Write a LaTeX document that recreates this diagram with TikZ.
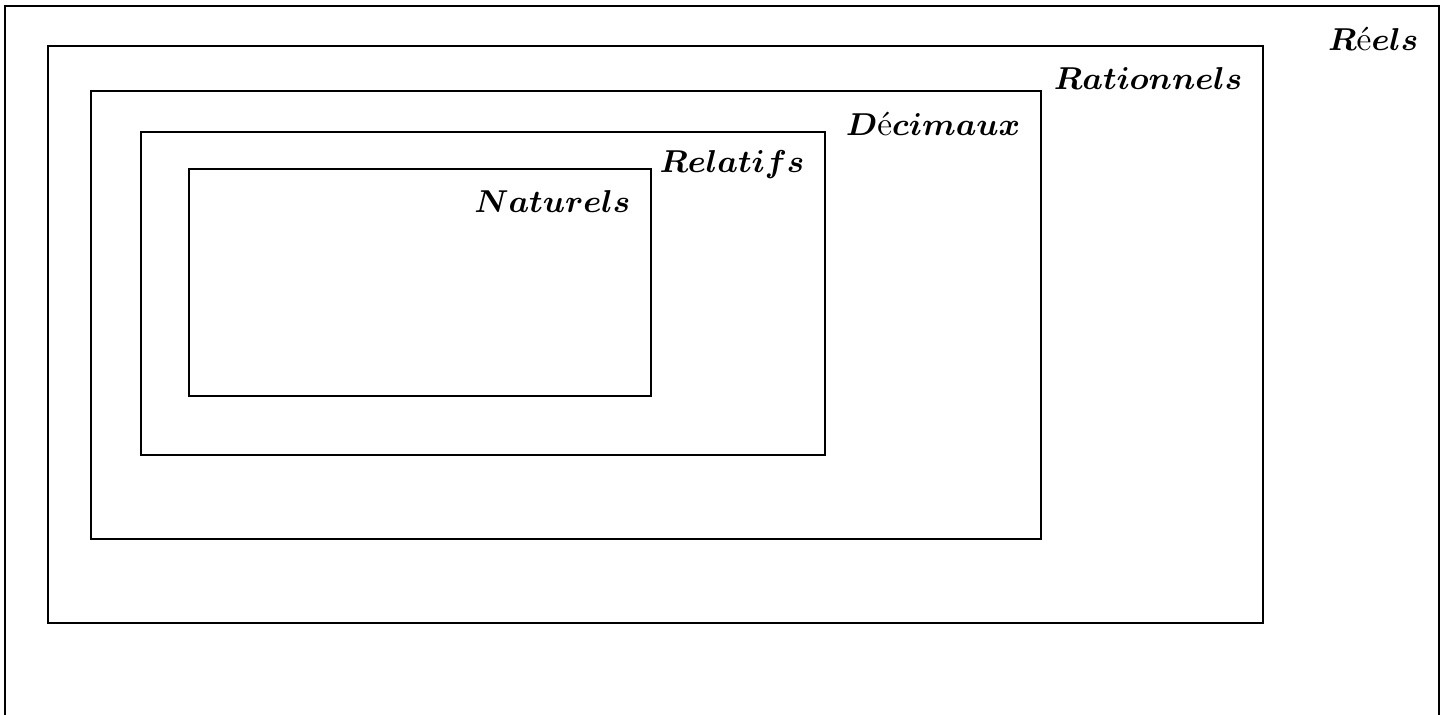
\documentclass[tikz,border=0pt]{standalone}
\usepackage{fontspec}
\usepackage{amsmath}
\usetikzlibrary{calc}
\tikzset{
  setbox/.style={black, line width=.6pt},
  setlabel/.style={anchor=east, inner sep=0pt, font=\fontsize{9.5}{11}\selectfont}
}
\newcommand{\bm}[1]{\boldsymbol{#1}}

\begin{document}
\begin{tikzpicture}[x=0.01cm, y=-0.01cm]
\useasboundingbox (0,0) rectangle (1447,715);
% nested sets, from the largest to the smallest
\foreach \l/\t/\r/\b/\nm/\txt in {
  5/6/1439/740/reels/{$\bm{R}$é$\bm{els}$},
  48/46/1263/623/rationnels/{$\bm{Rationnels}$},
  91/91/1041/539/decimaux/{$\bm{D}$é$\bm{cimaux}$},
  141/132/825/455/relatifs/{$\bm{Relatifs}$},
  189/169/651/396/naturels/{$\bm{Naturels}$}} {
 \draw[setbox] (\l,\t) rectangle (\r,\b);
 \node[setlabel] (\nm) at ({\r-20},{\t+33}) {\txt};
}
\end{tikzpicture}
\end{document}
